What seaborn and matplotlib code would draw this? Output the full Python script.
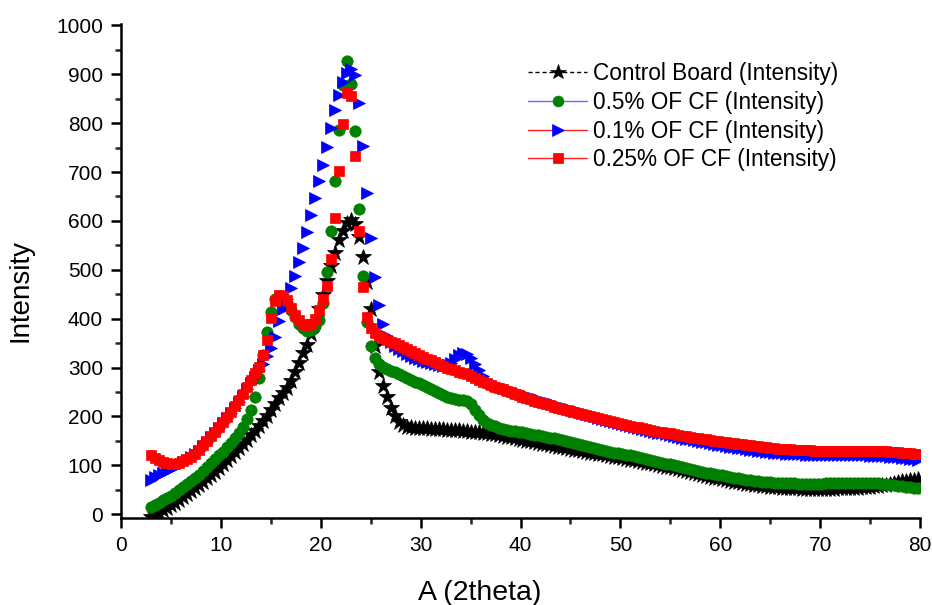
import numpy as np
import matplotlib
matplotlib.use("Agg")
import matplotlib.pyplot as plt
from matplotlib.ticker import MultipleLocator
from matplotlib.lines import Line2D
import seaborn as sns

# 2theta sampling: 3.0 .. 79.8 step 0.4 (193 points)
two_theta = np.round(3.0 + 0.4 * np.arange(193), 1)

control_board = [
    -6, -2, 3, 8, 13, 18, 23, 29, 35, 41,
    47, 53, 60, 66, 73, 80, 87, 95, 103, 111,
    119, 127, 135, 143, 152, 161, 170, 180, 190, 201,
    213, 225, 237, 248, 259, 273, 290, 310, 329, 347,
    368, 394, 420, 449, 478, 507, 535, 560, 580, 596,
    602, 594, 568, 527, 474, 420, 345, 290, 262, 240,
    218, 200, 188, 182, 179, 178, 177, 177, 176, 176,
    175, 175, 174, 174, 173, 173, 172, 172, 171, 170,
    169, 168, 167, 166, 165, 164, 163, 161, 160, 158,
    157, 155, 154, 152, 150, 149, 147, 146, 144, 143,
    141, 140, 138, 137, 135, 134, 132, 131, 129, 128,
    126, 125, 123, 122, 120, 119, 117, 116, 114, 113,
    111, 110, 108, 107, 105, 104, 102, 101, 99, 97,
    96, 94, 92, 90, 88, 86, 84, 82, 80, 78,
    76, 74, 73, 71, 69, 68, 66, 65, 63, 62,
    61, 60, 59, 58, 57, 56, 55, 55, 54, 54,
    53, 53, 53, 52, 52, 52, 52, 52, 52, 52,
    52, 52, 53, 53, 53, 53, 54, 54, 55, 55,
    56, 57, 58, 59, 60, 62, 63, 65, 67, 68,
    69, 70, 71,
]

cf_05 = [
    15, 19, 23, 28, 33, 38, 43, 49, 55, 61,
    67, 74, 81, 88, 96, 104, 112, 120, 128, 137,
    146, 155, 165, 178, 195, 214, 240, 278, 325, 372,
    414, 440, 447, 445, 433, 418, 403, 390, 380, 375,
    377, 385, 398, 432, 495, 580, 681, 787, 879, 928,
    880, 783, 625, 488, 394, 343, 319, 307, 301, 297,
    293, 290, 286, 282, 278, 275, 271, 268, 264, 260,
    256, 252, 248, 244, 240, 237, 235, 234, 233, 231,
    225, 214, 202, 193, 187, 183, 180, 177, 175, 173,
    171, 170, 168, 167, 165, 164, 162, 161, 159, 158,
    156, 155, 153, 151, 149, 147, 145, 144, 142, 140,
    138, 136, 134, 132, 130, 128, 126, 125, 123, 121,
    120, 118, 116, 114, 113, 111, 109, 107, 105, 103,
    102, 100, 98, 96, 94, 92, 91, 89, 87, 85,
    84, 82, 80, 79, 77, 76, 74, 73, 72, 70,
    69, 68, 67, 66, 66, 65, 64, 64, 63, 63,
    63, 63, 62, 62, 62, 62, 62, 62, 62, 63,
    63, 63, 63, 63, 64, 64, 64, 64, 64, 64,
    64, 63, 63, 62, 61, 60, 59, 58, 57, 56,
    55, 54, 54,
]

cf_01 = [
    70, 75, 80, 85, 89, 93, 97, 101, 106, 111,
    116, 122, 130, 139, 148, 157, 166, 176, 186, 196,
    207, 218, 230, 242, 255, 268, 281, 294, 308, 323,
    340, 362, 395, 420, 440, 462, 488, 515, 545, 578,
    612, 646, 681, 715, 752, 790, 826, 858, 885, 903,
    911, 898, 842, 754, 657, 565, 486, 428, 389, 365,
    352, 344, 338, 333, 328, 324, 320, 317, 314, 311,
    309, 307, 305, 304, 305, 309, 317, 325, 330, 328,
    320, 307, 294, 283, 275, 269, 265, 262, 259, 256,
    253, 250, 248, 245, 243, 240, 237, 235, 232, 230,
    227, 225, 222, 220, 217, 215, 212, 210, 207, 205,
    202, 200, 197, 195, 193, 190, 188, 186, 184, 182,
    180, 178, 176, 174, 172, 170, 168, 166, 165, 163,
    161, 159, 158, 156, 154, 153, 151, 150, 148, 147,
    145, 144, 142, 141, 140, 138, 137, 136, 135, 133,
    132, 131, 130, 129, 128, 127, 126, 125, 125, 124,
    123, 123, 122, 122, 121, 121, 121, 120, 120, 120,
    120, 120, 120, 120, 120, 120, 120, 120, 120, 120,
    119, 119, 119, 118, 118, 117, 116, 116, 115, 114,
    113, 112, 111,
]

cf_025 = [
    121, 115, 110, 106, 104, 103, 103, 105, 108, 112,
    117, 124, 132, 141, 150, 159, 168, 178, 188, 198,
    209, 221, 233, 246, 260, 274, 288, 302, 325, 357,
    401, 437, 448, 446, 438, 422, 408, 397, 390, 387,
    389, 400, 418, 440, 466, 522, 605, 703, 799, 861,
    855, 733, 580, 465, 404, 381, 371, 365, 361, 357,
    353, 350, 346, 342, 338, 334, 330, 326, 322, 318,
    315, 311, 307, 303, 300, 297, 294, 291, 289, 286,
    283, 279, 275, 271, 268, 264, 261, 258, 255, 252,
    249, 246, 243, 240, 238, 235, 232, 230, 227, 225,
    223, 220, 218, 216, 213, 211, 209, 207, 205, 203,
    201, 199, 197, 195, 193, 191, 189, 187, 185, 183,
    181, 179, 178, 176, 174, 173, 171, 169, 168, 166,
    165, 163, 162, 160, 159, 158, 156, 155, 154, 153,
    151, 150, 149, 148, 147, 146, 145, 144, 143, 142,
    141, 140, 139, 138, 137, 136, 135, 134, 134, 133,
    133, 132, 132, 131, 131, 131, 130, 130, 130, 130,
    130, 130, 130, 130, 130, 130, 130, 130, 130, 130,
    130, 130, 130, 129, 129, 128, 128, 127, 126, 126,
    125, 124, 123,
]

series_labels = [
    "Control Board (Intensity)",
    "0.5% OF CF (Intensity)",
    "0.1% OF CF (Intensity)",
    "0.25% OF CF (Intensity)",
]
x_ticks = [0, 10, 20, 30, 40, 50, 60, 70, 80]
y_ticks = [0, 100, 200, 300, 400, 500, 600, 700, 800, 900, 1000]

sns.set_style("ticks")
plt.rcParams["font.family"] = ["Liberation Sans", "DejaVu Sans"]
plt.rcParams["text.color"] = "black"
plt.rcParams["axes.labelcolor"] = "black"

fig = plt.figure(figsize=(9.32, 6.05), dpi=100)
ax = fig.add_axes([121 / 932, 1 - 518 / 605, (920 - 121) / 932, (518 - 24) / 605])

styles = [
    dict(marker="*", line_color="black", linestyle=(0, (3, 2)), mfc="black", mec="black", ms=12),
    dict(marker="o", line_color="#6a6aff", linestyle="-", mfc="#008000", mec="#008000", ms=8.2),
    dict(marker=">", line_color="#ff2020", linestyle="-", mfc="#0000ff", mec="#0000ff", ms=9.2),
    dict(marker="s", line_color="#ff2020", linestyle="-", mfc="#ff0000", mec="#ff0000", ms=7.4),
]
data = [control_board, cf_05, cf_01, cf_025]

handles = []
for ys, lab, st in zip(data, series_labels, styles):
    sns.lineplot(x=two_theta, y=np.asarray(ys, dtype=float), ax=ax,
                 linestyle="none", marker=st["marker"], markersize=st["ms"],
                 mfc=st["mfc"], mec=st["mec"], markeredgewidth=0.5,
                 color=st["mfc"], errorbar=None, legend=False)
    handles.append(Line2D([], [], color=st["line_color"], linestyle=st["linestyle"],
                          linewidth=1.0, marker=st["marker"], markersize=st["ms"] * 0.95,
                          mfc=st["mfc"], mec=st["mec"], markeredgewidth=0.5, label=lab))

ax.set_xlim(0, 80)
ax.set_ylim(-8, 1003)
ax.set_xticks(x_ticks)
ax.set_yticks(y_ticks)
ax.xaxis.set_minor_locator(MultipleLocator(5))
ax.yaxis.set_minor_locator(MultipleLocator(50))
ax.tick_params(axis="both", which="major", direction="out", length=7, width=1.8,
               labelsize=15, colors="black", pad=6)
ax.tick_params(axis="both", which="minor", direction="out", length=4.5, width=1.8)
for side in ["left", "bottom"]:
    ax.spines[side].set_linewidth(1.8)
    ax.spines[side].set_color("black")
sns.despine(ax=ax)

ax.set_xlabel("A (2theta)", fontsize=20.5, color="black")
ax.xaxis.set_label_coords((480 - 121) / 799, -(580 - 518) / 494)
ax.set_ylabel("Intensity", fontsize=20, color="black")
ax.yaxis.set_label_coords((34 - 121) / 799, (518 - 290) / 494)

leg = ax.legend(handles=handles, loc="upper left", bbox_to_anchor=(517 / 932, 1 - 51 / 605),
                bbox_transform=fig.transFigure, frameon=False, fontsize=16.3,
                handlelength=2.6, handletextpad=0.25, labelspacing=0.25,
                borderpad=0, numpoints=1)
for t in leg.get_texts():
    t.set_color("black")

fig.savefig("out.png", dpi=100)
